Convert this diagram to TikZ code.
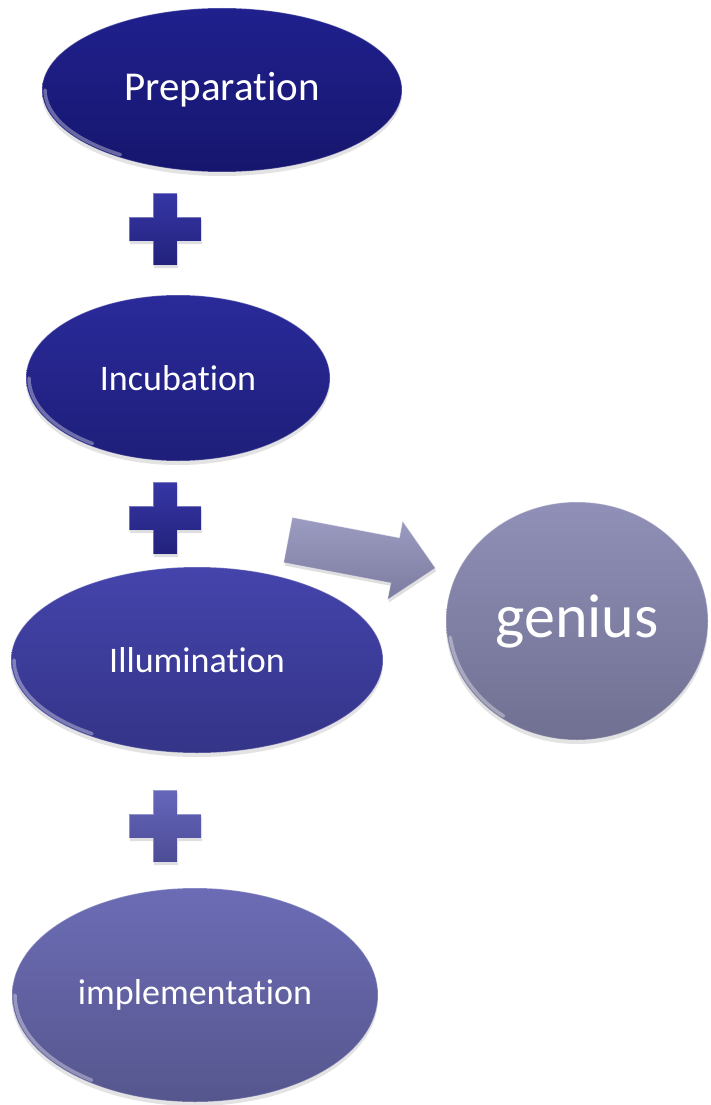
\documentclass[tikz,border=0pt]{standalone}
\usepackage{fontspec}
\setmainfont[Ligatures={NoCommon,NoContextual},RawFeature={-liga;-clig;-calt;-dlig}]{Carlito}
\usetikzlibrary{shapes.geometric,shadows}
\definecolor{eAt}{RGB}{32,32,142}\definecolor{eAb}{RGB}{22,22,110}
\definecolor{eBt}{RGB}{42,42,154}\definecolor{eBb}{RGB}{30,30,122}
\definecolor{eCt}{RGB}{68,68,172}\definecolor{eCb}{RGB}{52,52,136}
\definecolor{eDt}{RGB}{108,108,182}\definecolor{eDb}{RGB}{86,86,142}
\definecolor{gTop}{RGB}{144,144,184}\definecolor{gBot}{RGB}{112,112,146}
\definecolor{arTop}{RGB}{156,156,194}\definecolor{arBot}{RGB}{124,124,160}
\definecolor{pAt}{RGB}{54,54,166}\definecolor{pAb}{RGB}{34,34,124}
\definecolor{pCt}{RGB}{102,102,188}\definecolor{pCb}{RGB}{76,76,150}
\tikzset{
  bub/.style={ellipse, inner sep=0pt, text=white, draw=white, draw opacity=0.3,
    line width=1pt, drop shadow={shadow xshift=0pt, shadow yshift=-4pt, opacity=0.22}},
  rimhl/.style={white, opacity=0.35, line width=3.5pt, line cap=round},
  plusbox/.style={draw=white, draw opacity=0.35, line width=0.8pt,
    drop shadow={shadow xshift=1pt, shadow yshift=-3pt, opacity=0.25}},
}
\newcommand\plusat[3]{%
  \begin{scope}[shift={(#1,#2)}]
    \path[plusbox,#3] (-12,-36) -- (12,-36) -- (12,-12) -- (36,-12) -- (36,12) -- (12,12)
      -- (12,36) -- (-12,36) -- (-12,12) -- (-36,12) -- (-36,-12) -- (-12,-12) -- cycle;
  \end{scope}}
\begin{document}
\begin{tikzpicture}[x=1pt,y=-1pt]
\useasboundingbox[fill=white] (0,0) rectangle (710,1105);

% stage ellipses
\node[bub, minimum width=360pt, minimum height=164pt, top color=eAt, bottom color=eAb,
  font=\fontsize{41}{46}\selectfont] (prep) at (222,90) {Preparation};
\node[bub, minimum width=304pt, minimum height=166pt, top color=eBt, bottom color=eBb,
  font=\fontsize{36}{40}\selectfont] (incu) at (178,378) {Incubation};
\node[bub, minimum width=372pt, minimum height=186pt, top color=eCt, bottom color=eCb,
  font=\fontsize{36}{40}\selectfont] (illu) at (197,660) {Illumination};
\node[bub, minimum width=366pt, minimum height=214pt, top color=eDt, bottom color=eDb,
  font=\fontsize{36}{40}\selectfont] (impl) at (195,995) {implementation};
\node[bub, minimum width=262pt, minimum height=238pt, top color=gTop, bottom color=gBot,
  font=\fontsize{62}{68}\selectfont] (genius) at (577,621) {genius};

% soft highlights on the lower-left rims
\draw[rimhl] ([shift={(125:177 and 79)}]prep.center) arc[start angle=125, end angle=180, x radius=177, y radius=79];
\draw[rimhl] ([shift={(125:149 and 80)}]incu.center) arc[start angle=125, end angle=180, x radius=149, y radius=80];
\draw[rimhl] ([shift={(125:183 and 90)}]illu.center) arc[start angle=125, end angle=180, x radius=183, y radius=90];
\draw[rimhl] ([shift={(125:180 and 104)}]impl.center) arc[start angle=125, end angle=180, x radius=180, y radius=104];
\draw[rimhl] ([shift={(125:128 and 116)}]genius.center) arc[start angle=125, end angle=172, x radius=128, y radius=116];

% plus signs
\plusat{165}{229}{top color=pAt, bottom color=pAb}
\plusat{165}{518}{top color=pAt, bottom color=pAb}
\plusat{165}{826}{top color=pCt, bottom color=pCb}

% block arrow towards genius
\coordinate (aA) at (292.3,517.4);
\coordinate (aC) at (399.4,537.8);
\coordinate (aD) at (402.6,521.1);
\coordinate (aE) at (435.4,568.1);
\coordinate (aF) at (387.6,599.7);
\coordinate (aG) at (390.8,583.0);
\coordinate (aB) at (283.7,562.6);
\path[top color=arTop, bottom color=arBot, draw=white, draw opacity=0.4, line width=0.8pt,
  drop shadow={shadow xshift=1pt, shadow yshift=-3pt, opacity=0.25}]
  (aA) -- (aC) -- (aD) -- (aE) -- (aF) -- (aG) -- (aB) -- cycle;
\end{tikzpicture}
\end{document}
